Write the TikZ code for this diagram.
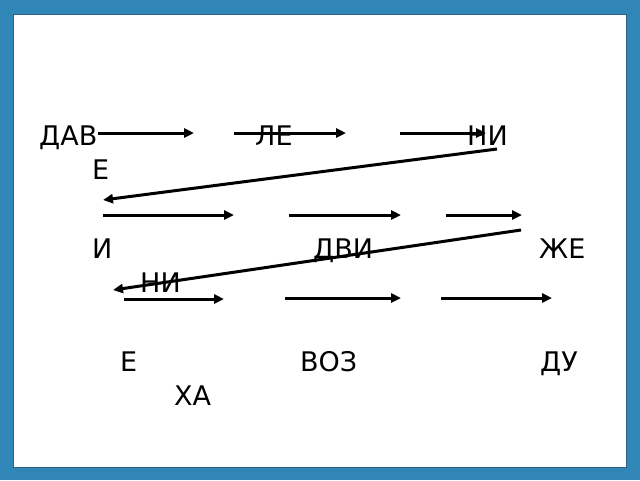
\documentclass[tikz,border=0pt]{standalone}
\usepackage{fontspec}
\setmainfont{DejaVu Sans}
\usepackage{xcolor}
\usetikzlibrary{arrows.meta}
\definecolor{frameblue}{HTML}{2F86B7}
\definecolor{framedark}{HTML}{2A5E86}

\begin{document}
\begin{tikzpicture}[x=1pt,y=-1pt,
    syl/.style={anchor=base west, inner sep=0pt, font=\fontsize{27}{31}\selectfont},
    arr/.style={line width=3pt, -{Triangle[length=10pt,width=9pt]}}]
    % frame
    \fill [frameblue] (0,0) rectangle (640,480);
    \draw [framedark, fill=white, line width=1pt] (13,14) rectangle (626,467);

    % syllables
    \foreach \n/\x/\y/\txt in {s1/39/145/ДАВ, s2/92/179/Е, s3/255/145/ЛЕ, s4/467/145/НИ,
                               s5/92/258/И, s6/313/258/ДВИ, s7/539/258/ЖЕ, s8/140/292/НИ,
                               s9/120/371/Е, s10/300/371/ВОЗ, s11/540/371/ДУ, s12/174/405/ХА}
        \node [syl] (\n) at (\x,\y) {\txt};

    % straight arrows
    \foreach \n/\xa/\xb/\y in {r1/98/194/133, r2/234/346/133, r3/400/486/133,
                               r4/103/234/215, r5/289/401/215, r6/446/522/215,
                               r7/124/224/299, r8/285/401/298, r9/441/552/298} {
        \coordinate (\n a) at (\xa,\y);
        \coordinate (\n b) at (\xb,\y);
        \draw [arr] (\n a) -- (\n b);
    }

    % return arrows
    \coordinate (d1a) at (497,149);
    \coordinate (d1b) at (103,200);
    \coordinate (d2a) at (521,230);
    \coordinate (d2b) at (113,290);
    \draw [arr] (d1a) -- (d1b);
    \draw [arr] (d2a) -- (d2b);
\end{tikzpicture}
\end{document}
